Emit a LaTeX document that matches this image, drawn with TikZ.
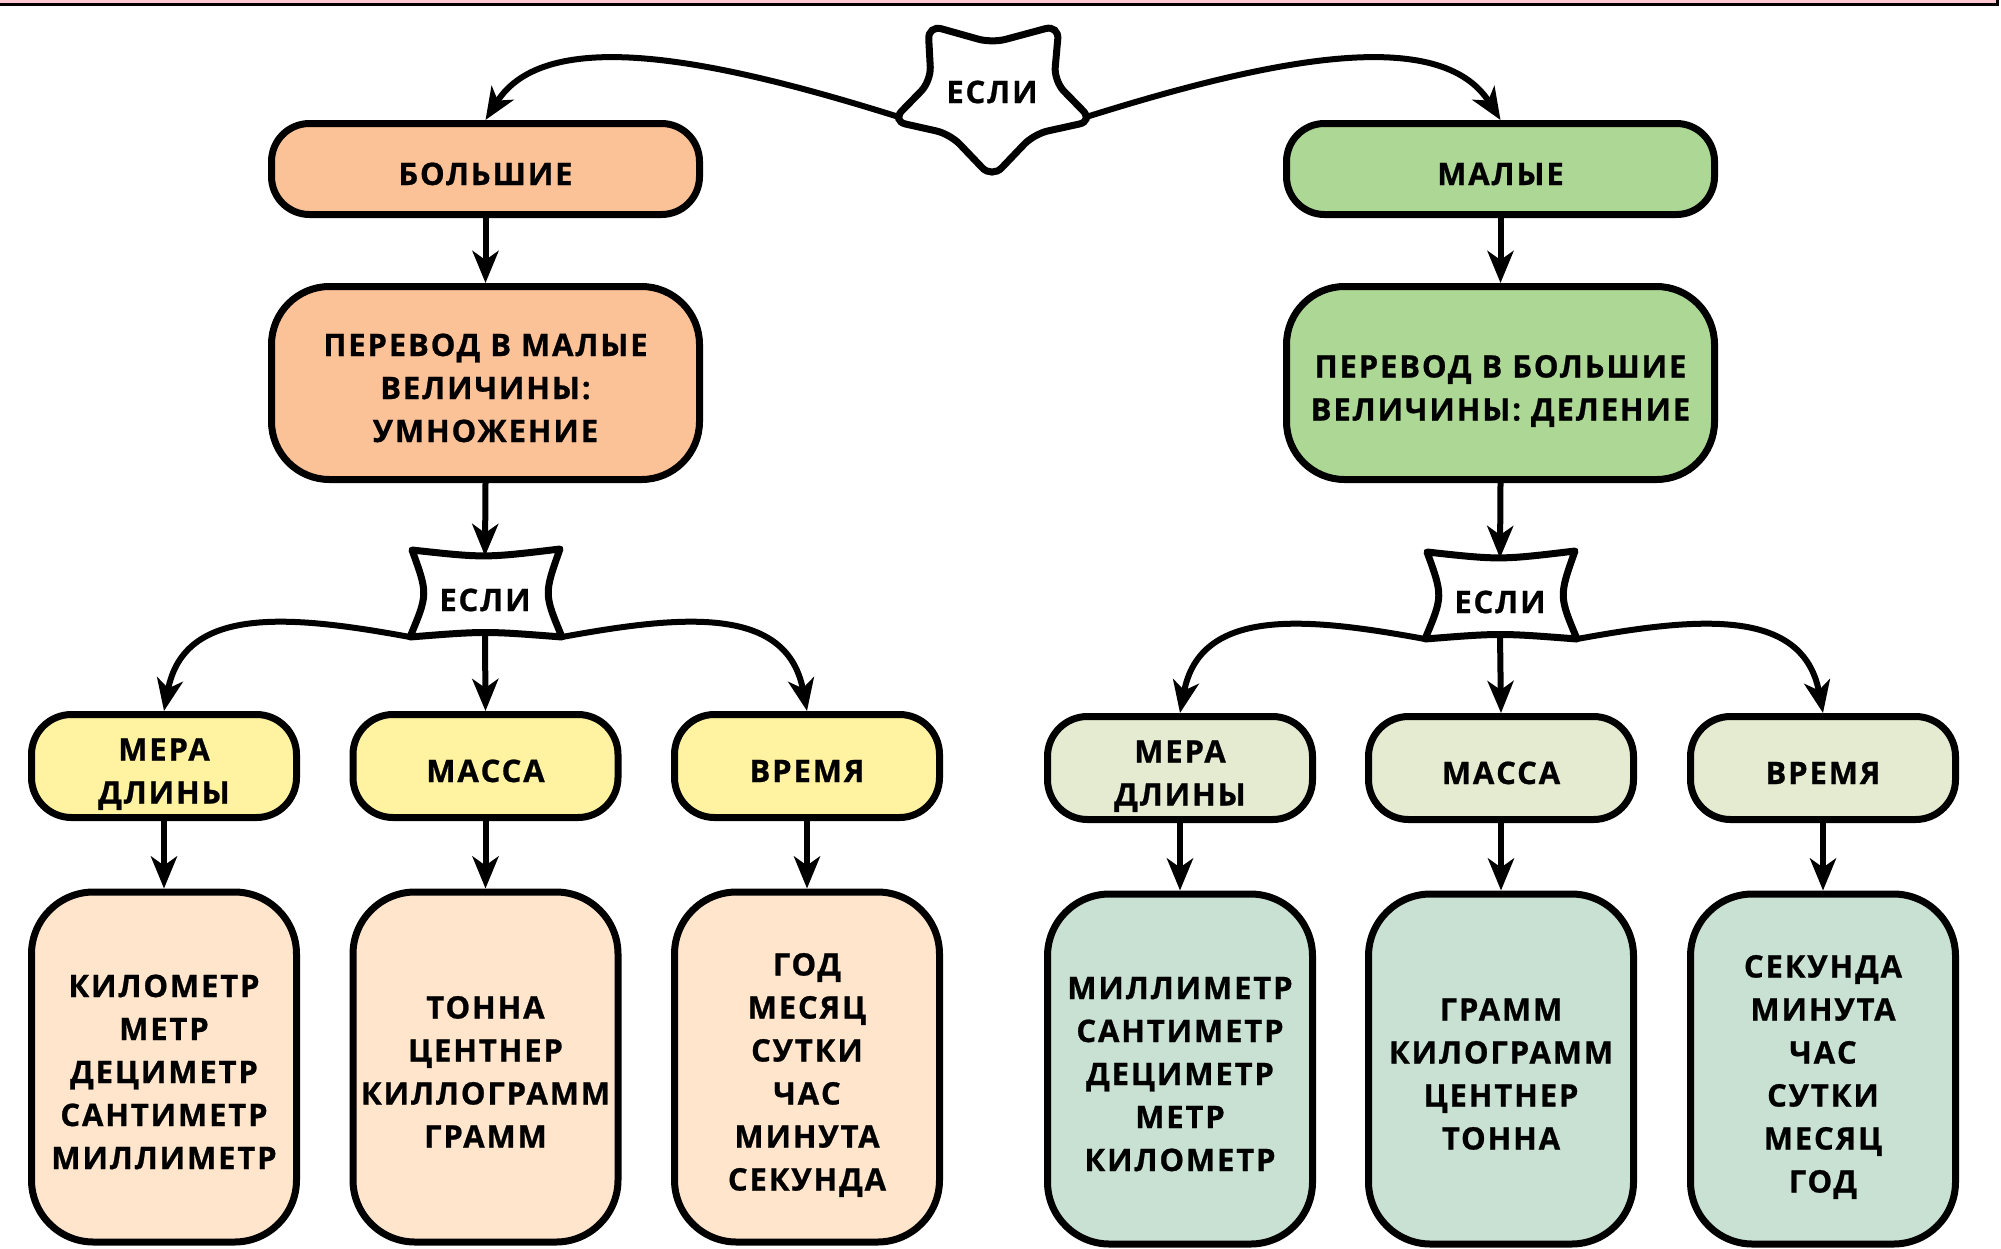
\documentclass[tikz,border=0pt]{standalone}
\usepackage{fontspec}
\setmainfont{Open Sans}[BoldFeatures={LetterSpace=6,FakeBold=0.8}]
\usetikzlibrary{arrows.meta}

\definecolor{stripc}{HTML}{FFC8D3}
\definecolor{bigc}{HTML}{FBC197}
\definecolor{smallc}{HTML}{ADD795}
\definecolor{cat1c}{HTML}{FFF2A1}
\definecolor{cat2c}{HTML}{E5EBD1}
\definecolor{unit1c}{HTML}{FFE5CC}
\definecolor{unit2c}{HTML}{C8E1D2}
\newcommand\lineup{\rule{0pt}{39pt}}

\begin{document}
\begin{tikzpicture}
  [x=1pt,y=-1pt,line width=7pt,
   every node/.style={font=\fontsize{31}{43}\selectfont\bfseries,align=center,inner sep=0pt},
   boxtext/.style={execute at begin node={\rule{0pt}{39pt}},execute at end node={\rule[-7pt]{0pt}{7pt}}},
   headbox/.style={draw,boxtext,rounded corners=38pt,minimum width=428pt,minimum height=91pt},
   convbox/.style={draw,boxtext,rounded corners=58pt,minimum width=428pt,minimum height=193pt},
   catbox/.style={draw,boxtext,rounded corners=40pt,minimum width=265pt,minimum height=103pt},
   unitbox/.style={draw,boxtext,rounded corners=62pt,minimum width=265pt,minimum height=350pt},
   arr/.style={line width=6pt,-{Stealth[length=32pt,width=26pt,inset=9pt]}}]
  \useasboundingbox (0,0) rectangle (2001,1248);
  \filldraw[fill=stripc,line width=3pt] (-20,-20) rectangle (1997,4);

  \node (if0) at (992,92) {ЕСЛИ};
  \draw[shift={(if0)},rounded corners=14pt] (-64,-67) -- (0,-49) -- (67,-67) -- (62,-11)
    -- (101,29) -- (42,42) -- (0,86) -- (-42,42) -- (-100,29) -- (-61,-11) -- cycle;
  \coordinate (if0w) at ([shift={(-90pt,-26pt)}]if0);
  \coordinate (if0e) at ([shift={(91pt,-26pt)}]if0);

  \node[headbox,fill=bigc] (big) at (485.5,169) {БОЛЬШИЕ};
  \node[headbox,fill=smallc] (small) at (1500.5,169) {МАЛЫЕ};
  \node[convbox,fill=bigc] (mul) at (485.5,383) {\lineup ПЕРЕВОД В МАЛЫЕ\\ВЕЛИЧИНЫ:\\УМНОЖЕНИЕ};
  \node[convbox,fill=smallc] (div) at (1500.5,383) {\lineup ПЕРЕВОД В БОЛЬШИЕ\\ВЕЛИЧИНЫ: ДЕЛЕНИЕ};

  \node (if1) at (485,600) {ЕСЛИ};
  \draw[shift={(if1)},line join=round] (-73,-50) .. controls (0,-42) .. (75,-51)
    .. controls (59,-6) .. (77,37) coordinate (if1se) .. controls (0,31) .. (-75,37) coordinate (if1sw)
    .. controls (-57,-6) .. (-73,-50) -- cycle;
  \coordinate (if1n) at ([yshift=44pt]if1);
  \coordinate (if1s) at ([yshift=-33pt]if1);
  \node (if2) at (1500,602) {ЕСЛИ};
  \draw[shift={(if2)},line join=round] (-73,-50) .. controls (0,-42) .. (75,-51)
    .. controls (59,-6) .. (77,37) coordinate (if2se) .. controls (0,31) .. (-75,37) coordinate (if2sw)
    .. controls (-57,-6) .. (-73,-50) -- cycle;
  \coordinate (if2n) at ([yshift=44pt]if2);
  \coordinate (if2s) at ([yshift=-33pt]if2);

  \node[catbox,fill=cat1c] (len1) at (164,766) {\lineup МЕРА\\ДЛИНЫ};
  \node[catbox,fill=cat1c] (mass1) at (485.5,766) {МАССА};
  \node[catbox,fill=cat1c] (time1) at (807,766) {ВРЕМЯ};
  \node[catbox,fill=cat2c] (len2) at (1180,768) {\lineup МЕРА\\ДЛИНЫ};
  \node[catbox,fill=cat2c] (mass2) at (1501,768) {МАССА};
  \node[catbox,fill=cat2c] (time2) at (1823,768) {ВРЕМЯ};

  \node[unitbox,fill=unit1c] (ulen1) at (164,1067) {\lineup КИЛОМЕТР\\МЕТР\\ДЕЦИМЕТР\\САНТИМЕТР\\МИЛЛИМЕТР};
  \node[unitbox,fill=unit1c] (umass1) at (485.5,1067) {\lineup ТОННА\\ЦЕНТНЕР\\КИЛЛОГРАММ\\ГРАММ};
  \node[unitbox,fill=unit1c] (utime1) at (807,1067) {\lineup ГОД\\МЕСЯЦ\\СУТКИ\\ЧАС\\МИНУТА\\СЕКУНДА};
  \node[unitbox,fill=unit2c] (ulen2) at (1180,1069) {\lineup МИЛЛИМЕТР\\САНТИМЕТР\\ДЕЦИМЕТР\\МЕТР\\КИЛОМЕТР};
  \node[unitbox,fill=unit2c] (umass2) at (1501,1069) {\lineup ГРАММ\\КИЛОГРАММ\\ЦЕНТНЕР\\ТОННА};
  \node[unitbox,fill=unit2c] (utime2) at (1823,1069) {\lineup СЕКУНДА\\МИНУТА\\ЧАС\\СУТКИ\\МЕСЯЦ\\ГОД};

  \draw[arr] (if0w) .. controls +(-190,-60) and +(60,-95) .. (big.north);
  \draw[arr] (if0e) .. controls +(190,-60) and +(-60,-95) .. (small.north);
  \draw[arr] (big) -- (mul);
  \draw[arr] (small) -- (div);
  \draw[arr] (mul.south) -- (if1n);
  \draw[arr] (div.south) -- (if2n);

  \draw[arr] (if1sw) .. controls +(-120,-22) and +(20,-106) .. (len1.north);
  \draw[arr] (if1s) -- (mass1.north);
  \draw[arr] (if1se) .. controls +(120,-22) and +(-20,-106) .. (time1.north);
  \draw[arr] (if2sw) .. controls +(-120,-22) and +(20,-106) .. (len2.north);
  \draw[arr] (if2s) -- (mass2.north);
  \draw[arr] (if2se) .. controls +(120,-22) and +(-20,-106) .. (time2.north);

  \draw[arr] (len1) -- (ulen1);
  \draw[arr] (mass1) -- (umass1);
  \draw[arr] (time1) -- (utime1);
  \draw[arr] (len2) -- (ulen2);
  \draw[arr] (mass2) -- (umass2);
  \draw[arr] (time2) -- (utime2);
\end{tikzpicture}
\end{document}
